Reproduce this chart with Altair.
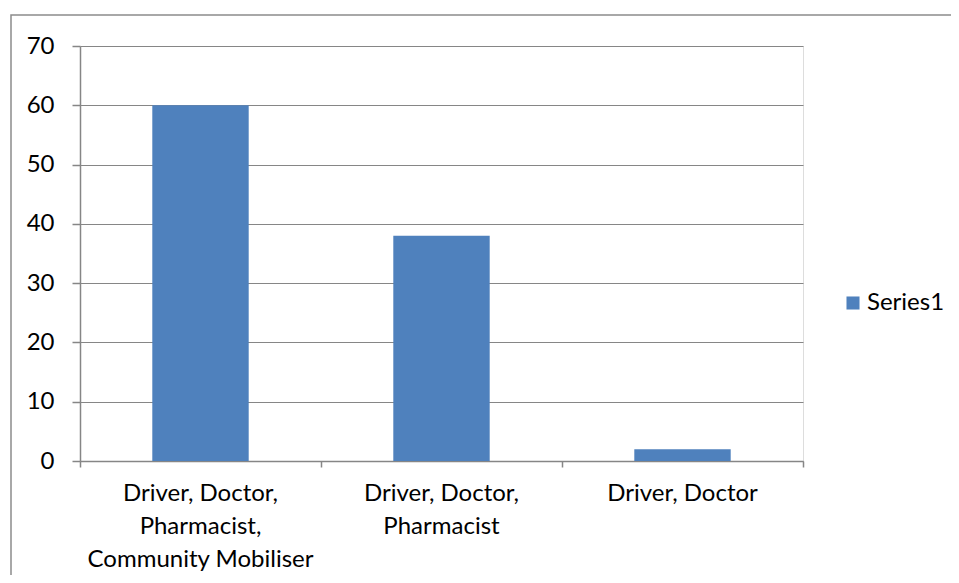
import altair as alt
import pandas as pd

categories = ["Driver, Doctor,\nPharmacist,\nCommunity Mobiliser", "Driver, Doctor,\nPharmacist", "Driver, Doctor"]
values = [60, 38, 2]
series_name = "Series1"
y_ticks = [0, 10, 20, 30, 40, 50, 60, 70]
x_boundaries = [0, 1, 2, 3]

df = pd.DataFrame({"category": categories, "value": values, "idx": list(range(len(categories)))})
df["series"] = series_name

FONT = "Lato"
GRAY = "#868686"
BLUE = "#4F81BD"

xscale = alt.Scale(domain=[0, 3], nice=False, zero=False)
yscale = alt.Scale(domain=[0, 70], nice=False)

base = alt.Chart(df).transform_calculate(
    lo="datum.idx + 0.3", hi="datum.idx + 0.7", mid="datum.idx + 0.5"
)

border = alt.Chart(df).mark_rect(fill=None, stroke="#8c8c8c", strokeWidth=1.5).encode(
    x=alt.value(-69), x2=alt.value(900), y=alt.value(-31), y2=alt.value(600)
).transform_filter("datum.idx == 0")

bars = base.mark_bar(color=BLUE).encode(
    x=alt.X("lo:Q", scale=xscale,
            axis=alt.Axis(values=x_boundaries, labels=False, grid=False, title=None,
                          tickSize=6, tickColor=GRAY, domainColor=GRAY, tickWidth=1.5, domainWidth=1.5)),
    x2="hi:Q",
    y=alt.Y("value:Q", scale=yscale,
            axis=alt.Axis(values=y_ticks, title=None, grid=True, gridColor=GRAY, gridWidth=1.2,
                          tickSize=8, tickColor=GRAY, domainColor=GRAY, tickWidth=1.5, domainWidth=1.5,
                          labelFont=FONT, labelFontSize=24, labelColor="black", labelPadding=18)),
    y2=alt.datum(0),
    color=alt.Color("series:N", scale=alt.Scale(domain=[series_name], range=[BLUE]),
                    legend=alt.Legend(title=None, orient="none", legendX=761, legendY=245,
                                      symbolType="square", symbolSize=170, symbolStrokeWidth=0,
                                      labelFont=FONT, labelFontSize=24, labelColor="black",
                                      symbolOpacity=1, labelOffset=2, padding=0)),
)

labels = base.mark_text(font=FONT, fontSize=24, baseline="top", align="center",
                        lineBreak="\n", lineHeight=33, color="black").encode(
    x=alt.X("mid:Q", scale=xscale),
    y=alt.value(436),
    text="category:N",
)

chart = alt.layer(border, bars, labels).properties(
    width=723, height=415,
    autosize=alt.AutoSizeParams(type="none"),
    padding={"left": 72, "top": 38, "right": 148, "bottom": 114},
).configure_view(stroke=None).configure(background="white")

chart.save("out.html", embed_options={"renderer": "svg", "actions": False})
